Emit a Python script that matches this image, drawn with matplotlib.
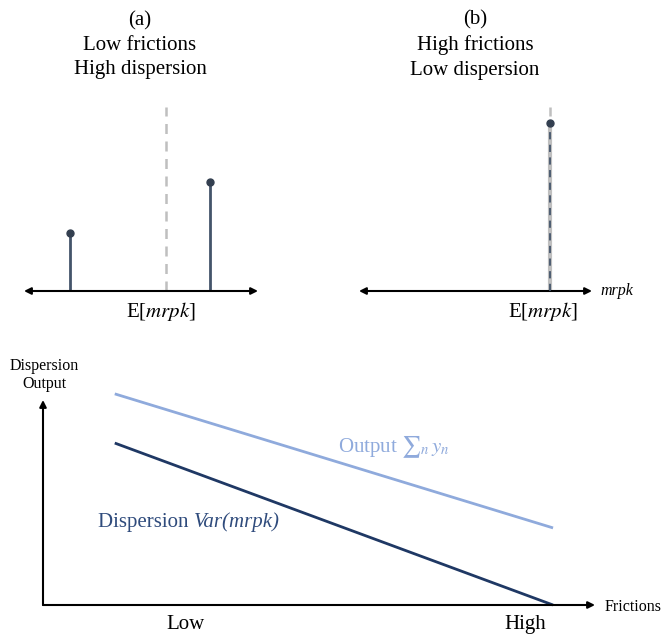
import matplotlib
matplotlib.use("Agg")
import matplotlib.pyplot as plt

plt.rcParams["font.family"] = ["Liberation Serif", "DejaVu Serif"]
plt.rcParams["mathtext.fontset"] = "stix"

W, H = 662, 634

# panel (a): two firms, low frictions -> spread-out mrpk
a_mrpk = [-1.92, 0.88]
a_mass = [0.315, 0.59]
a_mean = 0.0
a_xlim = (-2.84, 1.84)

# panel (b): high frictions -> mass piled at the mean
b_mrpk = [0.0]
b_mass = [0.913]
b_mean = 0.0
b_xlim = (-3.82, 0.84)

# bottom panel: outcomes against frictions
frictions = [0.13, 0.924]
output = [1.03, 0.376]
dispersion = [0.79, 0.0]
tick_pos = [0.259, 0.873]
tick_lab = ["Low", "High"]

STEM = "#44546a"
DOT = "#333f50"
GRAY = "#bfbfbf"
NAVY = "#1f3864"
LIGHT = "#8faadc"
DTEXT = "#2f4b7c"


def px_axes(fig, left, top, right, bottom):
    return fig.add_axes([left / W, 1 - bottom / H, (right - left) / W, (bottom - top) / H])


def arrow(ax, xy_from, xy_to, style):
    ax.annotate("", xy=xy_to, xytext=xy_from, xycoords="axes fraction",
                arrowprops=dict(arrowstyle=style, color="black", lw=1.5,
                                mutation_scale=10, shrinkA=0, shrinkB=0),
                annotation_clip=False)


def dist_panel(ax, mean, xlim):
    ax.set_xlim(*xlim)
    ax.set_ylim(0, 1.0)
    ax.axis("off")
    ax.plot([mean, mean], [0, 1.0], color=GRAY, lw=1.8, ls=(0, (4, 3)), zorder=1)
    arrow(ax, (1, 0), (0, 0), "<|-|>")


fig = plt.figure(figsize=(W / 100, H / 100), dpi=100)

ax_a = px_axes(fig, 24, 107, 258, 291)
dist_panel(ax_a, a_mean, a_xlim)
ax_a.vlines(a_mrpk, 0, a_mass, color=STEM, lw=2.0, zorder=2)
ax_a.plot(a_mrpk, a_mass, "o", color=DOT, ms=5, zorder=3)

ax_b = px_axes(fig, 359, 107, 592, 291)
dist_panel(ax_b, b_mean, b_xlim)
ax_b.vlines(b_mrpk, 0, b_mass, color=GRAY, lw=3.0, zorder=2)
ax_b.vlines(b_mrpk, 0, b_mass, color=STEM, lw=1.3, linestyles=(0, (4, 3)), zorder=3)
ax_b.plot(b_mrpk, b_mass, "o", color=DOT, ms=5, zorder=4)

fig.text(140 / W, 1 - 45 / H, "(a)\nLow frictions\nHigh dispersion",
         ha="center", va="center", fontsize=15, linespacing=1.38)
fig.text(475 / W, 1 - 45 / H, "(b)\nHigh frictions\nLow dispersion",
         ha="center", va="center", fontsize=15, linespacing=1.38)
fig.text(161 / W, 1 - 311 / H, "E[$mrpk$]", ha="center", va="center", fontsize=15)
fig.text(543 / W, 1 - 311 / H, "E[$mrpk$]", ha="center", va="center", fontsize=15)
fig.text(600 / W, 1 - 291 / H, "mrpk", ha="left", va="center", fontsize=11.5,
         style="italic")

ax = px_axes(fig, 43, 400, 595, 605)
ax.set_xlim(0, 1)
ax.set_ylim(0, 1)
for s in ax.spines.values():
    s.set_visible(False)
ax.set_yticks([])
ax.set_xticks(tick_pos)
ax.set_xticklabels(tick_lab, fontsize=15)
ax.tick_params(axis="x", length=0, pad=7)
ax.patch.set_alpha(0)
arrow(ax, (0, 0), (1, 0), "-|>")
arrow(ax, (0, 0), (0, 1), "-|>")

ax.plot(frictions, output, color=LIGHT, lw=2.0, solid_capstyle="butt", clip_on=False)
ax.plot(frictions, dispersion, color=NAVY, lw=2.0, solid_capstyle="butt", clip_on=False)

fig.text(338 / W, 1 - 447 / H, "Output $\u2211_n\\, y_n$", ha="left", va="center",
         fontsize=15, color=LIGHT)
t1 = fig.text(98 / W, 1 - 522 / H, "Dispersion ", ha="left", va="center",
              fontsize=15, color=DTEXT)
ax.annotate("Var(mrpk)", xy=(1, 0), xycoords=t1, ha="left", va="bottom",
            fontsize=15, color=DTEXT, style="italic", annotation_clip=False)

fig.text(44 / W, 1 - 375 / H, "Dispersion\nOutput", ha="center", va="center",
         fontsize=11.5, linespacing=1.25)
fig.text(605 / W, 1 - 607 / H, "Frictions", ha="left", va="center", fontsize=11.5)

fig.savefig("out.png", dpi=100)
